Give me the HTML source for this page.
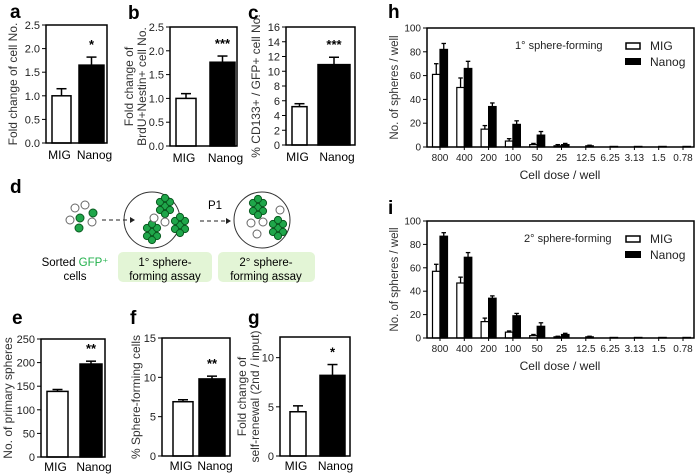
<!DOCTYPE html>
<html><head><meta charset="utf-8"><style>
body{margin:0;background:#fff;width:697px;height:475px;overflow:hidden}
svg{display:block;font-family:"Liberation Sans",Arial,sans-serif}
</style></head><body>
<svg id="fig" width="697" height="475" viewBox="0 0 697 475">
<g id="diagram">
<text x="10" y="193" font-size="19" font-weight="bold">d</text>
<rect x="118" y="252" width="94" height="30" rx="5" fill="#e3f5d6"/>
<rect x="218" y="252" width="97" height="30" rx="5" fill="#e3f5d6"/>
<text x="165" y="266" font-size="11.5" text-anchor="middle">1° sphere-</text>
<text x="165" y="280" font-size="11.5" text-anchor="middle">forming assay</text>
<text x="266" y="266" font-size="11.5" text-anchor="middle">2° sphere-</text>
<text x="266" y="280" font-size="11.5" text-anchor="middle">forming assay</text>
<text x="75" y="266" font-size="11.5" text-anchor="middle">Sorted <tspan fill="#22b14c">GFP⁺</tspan></text>
<text x="75" y="280" font-size="11.5" text-anchor="middle">cells</text>
<text x="215" y="209" font-size="11.5" text-anchor="middle">P1</text>
<circle cx="152" cy="220" r="28" fill="none" stroke="#333"/>
<circle cx="262" cy="220" r="28" fill="none" stroke="#333"/>
<line x1="102" y1="220" x2="130" y2="220" stroke="#222" stroke-dasharray="4,3"/>
<path d="M130 217 L135 220 L130 223Z" fill="#222"/>
<line x1="200" y1="221" x2="226" y2="221" stroke="#222" stroke-dasharray="4,3"/>
<path d="M226 218 L231 221 L226 224Z" fill="#222"/>
</g>
<g id="panels"></g>
</svg>
<script>
// ---- data for two-bar panels ----
const groups = ["MIG","Nanog"];
const aVals=[1.0,1.65], aErr=[0.15,0.17];
const bVals=[1.0,1.76], bErr=[0.1,0.13];
const cVals=[5.2,10.9], cErr=[0.4,1.0];
const eVals=[139,197], eErr=[4,6];
const fVals=[6.9,9.8], fErr=[0.25,0.35];
const gVals=[4.5,8.2], gErr=[0.6,1.1];
// ---- data for dose panels ----
const doses=["800","400","200","100","50","25","12.5","6.25","3.13","1.5","0.78"];
const hMIG=[61,50,15,5,2,1,0,0,0,0,0];
const hMIGerr=[9,8,3,2,1,1,0,0,0,0,0];
const hNanog=[82,66,34,19,10,2,1,0.5,0.5,0.5,0.5];
const hNanogErr=[5,6,3,3,3,1,0.5,0,0,0,0];
const iMIG=[57,47,14,5,2,1,0,0,0,0,0];
const iMIGerr=[6,5,3,1,1,0.5,0,0,0,0,0];
const iNanog=[87,69,34,19,10,3,1,0.5,0.5,0.5,0.5];
const iNanogErr=[3,4,2,2,3,1,0.5,0,0,0,0];
const doseTicks=[0,20,40,60,80,100];

const NS="http://www.w3.org/2000/svg";
const root=document.getElementById('panels');
function mk(tag,attrs,parent,text){const e=document.createElementNS(NS,tag);for(const k in attrs)e.setAttribute(k,attrs[k]);if(text!==undefined)e.textContent=text;(parent||root).appendChild(e);return e;}

function twoBar(p){
  const g=mk('g',{});
  
  
  const y=v=>p.bottom-(v/p.max)*(p.bottom-p.top);
  const lab=mk('text',{x:p.lx,y:p.ly,'font-size':19,'font-weight':'bold'},g,p.id);
  
  
  p.ticks.forEach(t=>{
    mk('line',{x1:p.left-4,x2:p.left,y1:y(t),y2:y(t),stroke:'#000'},g);
    const tt=mk('text',{x:p.left-6,y:y(t)+4,'font-size':11,'text-anchor':'end',fill:'#222'},g,p.tickLabel?p.tickLabel(t):t);
    
    
  });
  p.vals.forEach((v,i)=>{
    const x0=p.bx[i][0],x1=p.bx[i][1],cx=(x0+x1)/2;
    const top=y(v+p.err[i]);
    mk('line',{x1:cx,x2:cx,y1:y(v),y2:top,stroke:'#000','stroke-width':1.5},g);
    mk('line',{x1:cx-5,x2:cx+5,y1:top,y2:top,stroke:'#000','stroke-width':1.5},g);
    const r=mk('rect',{x:x0,y:y(v),width:x1-x0,height:p.bottom-y(v),fill:i?'#000':'#fff',stroke:'#000','stroke-width':1.5},g);
    
    
    const xl=mk('text',{x:cx+(i?3:-2),y:p.bottom+(p.lo||16),'font-size':12,'text-anchor':'middle'},g,groups[i]);
    
    
  });
  const st=mk('text',{x:(p.bx[1][0]+p.bx[1][1])/2,y:y(p.vals[1]+p.err[1])-8,'font-size':13,'text-anchor':'middle','font-weight':'bold'},g,p.star);
  
  
  const fr=mk('rect',{x:p.left,y:p.top,width:p.right-p.left,height:p.bottom-p.top,fill:'none',stroke:'#000','stroke-width':1.5},g);
  
  
  p.ytitle.forEach((t,k)=>{
    const cy=(p.top+p.bottom)/2;
    const tx=p.tx+k*13;
    const e=mk('text',{x:tx,y:cy,'font-size':12,'text-anchor':'middle',fill:'#333',transform:`rotate(-90 ${tx} ${cy})`},g,t);
    
    
  });
}

twoBar({id:'a',lx:10,ly:18,left:46,right:107,top:25,bottom:143,max:2.5,ticks:[0,0.5,1,1.5,2,2.5],tickLabel:t=>t.toFixed(1),vals:aVals,err:aErr,bx:[[52,71],[79,104]],star:'*',ytitle:['Fold change of cell No.'],tx:17});
twoBar({id:'b',lx:128,ly:19,left:170,right:237,top:27,bottom:146,max:2.5,ticks:[0,0.5,1,1.5,2,2.5],tickLabel:t=>t.toFixed(1),vals:bVals,err:bErr,bx:[[176,196],[210,235]],star:'***',ytitle:['Fold change of','BrdU+Nestin+ cell No.'],tx:133});
twoBar({id:'c',lx:248,ly:19,left:286,right:355,top:27,bottom:145,max:16,ticks:[0,2,4,6,8,10,12,14,16],vals:cVals,err:cErr,bx:[[292,307],[318,350]],star:'***',ytitle:['% CD133+ / GFP+ cell No.'],tx:260});
twoBar({id:'e',lx:12,ly:324,left:41,right:105,top:339,bottom:457,max:250,ticks:[0,50,100,150,200,250],vals:eVals,err:eErr,bx:[[47,68],[80,102]],star:'**',ytitle:['No. of primary spheres'],tx:12,lo:14});
twoBar({id:'f',lx:130,ly:324,left:162,right:230,top:338,bottom:456,max:15,ticks:[0,5,10,15],vals:fVals,err:fErr,bx:[[173,193],[199,225]],star:'**',ytitle:['% Sphere-forming cells'],tx:140,lo:14});
twoBar({id:'g',lx:248,ly:324,left:280,right:350,top:337,bottom:456,max:12.1,ticks:[0,5,10],vals:gVals,err:gErr,bx:[[290,306],[320,345]],star:'*',ytitle:['Fold change of','self-renewal (2nd / input)'],tx:246,lo:14});

function dosePanel(p){
  const g=mk('g',{});
  
  
  const L=427,R=694,T=p.top,B=p.bottom;
  const y=v=>B-(v/100)*(B-T);
  const x=i=>440+i*24.3;
  const lab=mk('text',{x:388,y:p.ly,'font-size':19,'font-weight':'bold'},g,p.id);
  
  
  doseTicks.forEach(t=>{
    mk('line',{x1:L-4,x2:L,y1:y(t),y2:y(t),stroke:'#000'},g);
    const tt=mk('text',{x:L-6,y:y(t)+3.5,'font-size':10,'text-anchor':'end',fill:'#222'},g,t);
    
    
  });
  doses.forEach((d,i)=>{
    const cx=x(i);
    [[p.mig,p.migErr,cx-7.5,'#fff','bar-mig-'],[p.nan,p.nanErr,cx,'#000','bar-nanog-']].forEach(s=>{
      const v=s[0][i],e=s[1][i],bx=s[2];
      if(e>0){
        mk('line',{x1:bx+3.75,x2:bx+3.75,y1:y(v),y2:y(v+e),stroke:'#000','stroke-width':1.3},g);
        mk('line',{x1:bx+1.5,x2:bx+6,y1:y(v+e),y2:y(v+e),stroke:'#000','stroke-width':1.3},g);
      }
      const r=mk('rect',{x:bx,y:y(v),width:7.5,height:B-y(v),fill:s[3],stroke:'#000','stroke-width':1.2},g);
      
      
    });
    mk('line',{x1:cx,x2:cx,y1:B,y2:B+3,stroke:'#000'},g);
    const xl=mk('text',{x:cx,y:B+14,'font-size':10,'text-anchor':'middle',fill:'#222'},g,d);
    
    
  });
  const fr=mk('rect',{x:L,y:T,width:R-L,height:B-T,fill:'none',stroke:'#000','stroke-width':1.5},g);
  
  
  const cy=(T+B)/2;
  const yt=mk('text',{x:398,y:cy,'font-size':11.5,'text-anchor':'middle',fill:'#333',transform:`rotate(-90 398 ${cy})`},g,'No. of spheres / well');
  
  
  const xt=mk('text',{x:560,y:B+32,'font-size':12,'text-anchor':'middle',fill:'#222'},g,'Cell dose / well');
  
  
  const ti=mk('text',{x:p.titleX,y:T+21,'font-size':11,fill:'#222'},g,p.title);
  
  
  const l1=mk('rect',{x:626,y:T+15,width:14,height:6,fill:'#fff',stroke:'#000','stroke-width':1.5},g);
  
  
  const l2=mk('rect',{x:625,y:T+30,width:16,height:7,fill:'#000'},g);
  
  
  const t1=mk('text',{x:650,y:T+22,'font-size':12,fill:'#222'},g,'MIG');
  
  
  const t2=mk('text',{x:650,y:T+38,'font-size':12,fill:'#222'},g,'Nanog');
  
  
}
dosePanel({id:'h',ly:18,top:28,bottom:147,mig:hMIG,migErr:hMIGerr,nan:hNanog,nanErr:hNanogErr,title:'1° sphere-forming',titleX:515});
dosePanel({id:'i',ly:214,top:221,bottom:338,mig:iMIG,migErr:iMIGerr,nan:iNanog,nanErr:iNanogErr,title:'2° sphere-forming',titleX:524});

// cells in diagram
const dg=document.getElementById('diagram');
function cell(cx,cy,green,r){const c=mk('circle',{cx:cx,cy:cy,r:r||4,fill:green?'#1fa64a':'#fff',stroke:green?'#0a5a20':'#666','stroke-width':1},dg);

}
function cluster(cx,cy){[[0,0],[-5,-4],[5,-4],[-5,4],[5,4],[0,-8],[0,8]].forEach(o=>cell(cx+o[0],cy+o[1],true,3.6));}
[[75,208,0],[85,205,0],[70,220,0],[92,222,0],[80,218,1],[93,213,1],[79,228,1]].forEach(c=>cell(c[0],c[1],c[2]));
cluster(165,206);cluster(180,225);cluster(152,232);cell(154,218,0);cell(165,222,0);
cluster(258,207);cluster(278,228);cell(280,210,0);cell(251,223,0);cell(263,222,0);cell(257,234,0);
</script>
</body></html>
